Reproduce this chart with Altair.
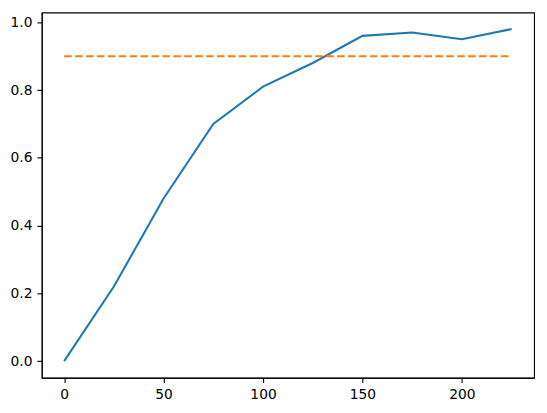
import altair as alt
import pandas as pd

steps = [0, 25, 50, 75, 100, 125, 150, 175, 200, 225]
accuracy = [0.0, 0.22, 0.48, 0.70, 0.81, 0.88, 0.96, 0.97, 0.95, 0.98]
threshold = 0.9
x_ticks = [0, 50, 100, 150, 200]
y_ticks = [0.0, 0.2, 0.4, 0.6, 0.8, 1.0]

df = pd.DataFrame({"x": steps, "y": accuracy})
df_thr = pd.DataFrame({"x": [steps[0], steps[-1]], "y": [threshold, threshold]})

xscale = alt.Scale(domain=[-11.25, 236.25], nice=False, zero=False)
yscale = alt.Scale(domain=[-0.049, 1.029], nice=False, zero=False)

axis_common = dict(
    grid=False, domainColor="black", domainWidth=1.1, tickColor="black",
    tickWidth=1.1, tickSize=4.9, labelFont="DejaVu Sans", labelFontSize=13.9,
    labelColor="black", labelPadding=4.9, title=None,
)

xenc = alt.X("x:Q", scale=xscale, axis=alt.Axis(values=x_ticks, format="d", **axis_common))
yenc = alt.Y("y:Q", scale=yscale, axis=alt.Axis(values=y_ticks, format=".1f", **axis_common))

line = alt.Chart(df).mark_line(color="#1f77b4", strokeWidth=2.08).encode(x=xenc, y=yenc)
thr = alt.Chart(df_thr).mark_line(color="#ff7f0e", strokeWidth=2.08, strokeDash=[7.7, 3.3]).encode(x=xenc, y=yenc)

chart = (line + thr).properties(
    width=496, height=368,
    autosize=alt.AutoSizeParams(type="none"),
    padding={"left": 34, "top": 3, "right": 5, "bottom": 30},
).configure_view(stroke="black", strokeWidth=1.1)

chart.save("out.html", embed_options={"renderer": "svg", "actions": False})
